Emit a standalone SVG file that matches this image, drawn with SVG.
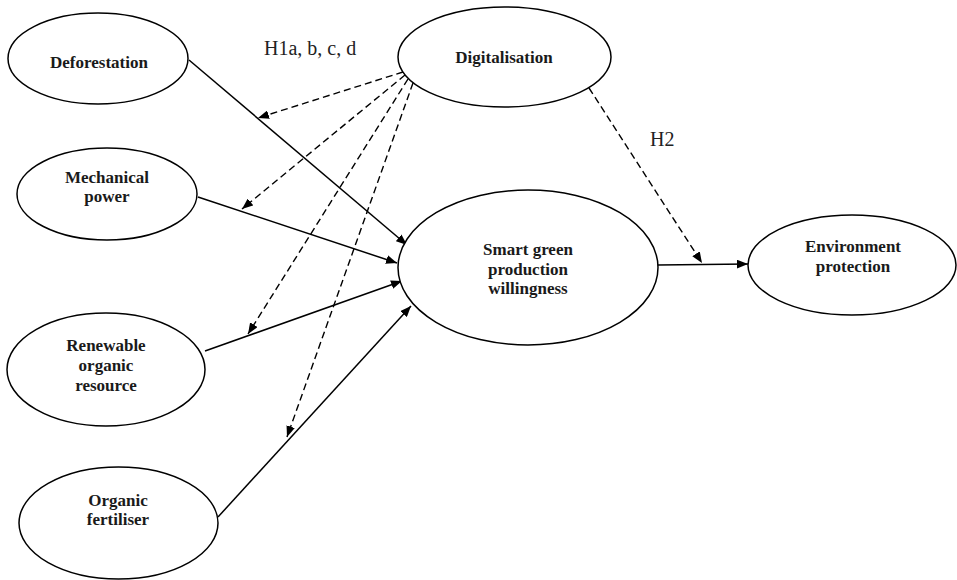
<svg xmlns="http://www.w3.org/2000/svg" width="957" height="580" viewBox="0 0 957 580">
<style>
.node ellipse{fill:#fff;stroke:#000;stroke-width:1.5}
.lbl{font-family:"Liberation Serif","Times New Roman",serif;font-weight:bold;font-size:17px;text-anchor:middle;fill:#1a1a1a}
.hyp{font-family:"Liberation Serif","Times New Roman",serif;font-size:20px;fill:#222}
.solid{stroke:#000;stroke-width:1.5;fill:none;marker-end:url(#ah)}
.dash{stroke:#000;stroke-width:1.4;fill:none;stroke-dasharray:7,4;marker-end:url(#ah)}
</style>
<defs>
<marker id="ah" viewBox="0 0 10 8" markerWidth="11" markerHeight="9" refX="10" refY="4" orient="auto" markerUnits="userSpaceOnUse">
<path d="M0,0 L10,4 L0,8 z" fill="#000"/>
</marker>
</defs>
<rect width="957" height="580" fill="#fff"/>
<g id="connectors">
<line class="solid" x1="189" y1="60" x2="407" y2="245"/>
<line class="solid" x1="198" y1="197" x2="397" y2="263"/>
<line class="solid" x1="205" y1="351" x2="402" y2="281"/>
<line class="solid" x1="218" y1="517" x2="411" y2="306"/>
<line class="solid" x1="658" y1="265" x2="748" y2="264"/>
<line class="dash" x1="403" y1="72" x2="258" y2="118"/>
<line class="dash" x1="405" y1="75" x2="242" y2="209"/>
<line class="dash" x1="408" y1="79" x2="248" y2="334"/>
<line class="dash" x1="413" y1="83" x2="287" y2="437"/>
<line class="dash" x1="589" y1="88" x2="702" y2="263"/>
<text class="hyp" x="264" y="55">H1a, b, c, d</text>
<text class="hyp" x="650" y="146">H2</text>
</g>
<g id="deforestation" class="node">
<ellipse cx="98" cy="58.5" rx="90" ry="45.5"/>
<text class="lbl" x="99" y="68">Deforestation</text>
</g>
<g id="mechanical" class="node">
<ellipse cx="107" cy="194" rx="90" ry="46"/>
<text class="lbl" x="107" y="183">Mechanical</text>
<text class="lbl" x="107" y="202">power</text>
</g>
<g id="digitalisation" class="node">
<ellipse cx="504.5" cy="57" rx="106.5" ry="50"/>
<text class="lbl" x="504" y="63">Digitalisation</text>
</g>
<g id="renewable" class="node">
<ellipse cx="106" cy="369.5" rx="99" ry="56.5"/>
<text class="lbl" x="106" y="351">Renewable</text>
<text class="lbl" x="106" y="371">organic</text>
<text class="lbl" x="106" y="391">resource</text>
</g>
<g id="fertiliser" class="node">
<ellipse cx="118.5" cy="523" rx="99.5" ry="56"/>
<text class="lbl" x="118" y="506">Organic</text>
<text class="lbl" x="118" y="525">fertiliser</text>
</g>
<g id="smart" class="node">
<ellipse cx="528" cy="267.5" rx="130" ry="77.5"/>
<text class="lbl" x="528" y="255">Smart green</text>
<text class="lbl" x="528" y="275">production</text>
<text class="lbl" x="528" y="294">willingness</text>
</g>
<g id="environment" class="node">
<ellipse cx="852" cy="265" rx="104" ry="50"/>
<text class="lbl" x="853" y="252">Environment</text>
<text class="lbl" x="853" y="272">protection</text>
</g>
</svg>
